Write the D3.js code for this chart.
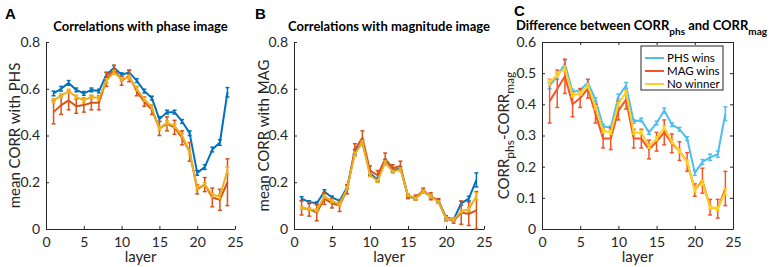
<!DOCTYPE html>
<html lang="en">
<head>
<meta charset="UTF-8">
<title>Correlations</title>
<script src="https://cdn.jsdelivr.net/npm/d3@7"></script>
<style>
    body{ margin:0; background:#fff; }
    svg{ font-family: Lato, "Open Sans", sans-serif; }
    .axis path, .axis line{ stroke:#262626; stroke-width:1px; }
    .axis text{ font-size:14px; fill:#262626; font-family: Lato, sans-serif; }
    .title{ font-size:13px; font-weight:bold; fill:#000; }
    .letter{ font-family:"Liberation Sans", Arial, sans-serif; font-weight:bold; font-size:15px; }
    .label{ font-size:15px; fill:#262626; }
    .series{ fill:none; stroke-width:2px; stroke-linejoin:round; }
    .err{ stroke-width:1.5px; fill:none; }
    .legend text{ font-size:11.5px; fill:#000; }
</style>
</head>
<body>
<svg id="svg"></svg>
<script>
var WIDTH = 773, HEIGHT = 267;

var layers = d3.range(1, 25);

// panel A: correlations with phase image
var phsBlue = [0.58,0.60,0.625,0.595,0.58,0.595,0.59,0.66,0.69,0.66,0.67,0.635,0.59,0.56,0.47,0.50,0.50,0.46,0.41,0.24,0.265,0.34,0.37,0.585];
var phsBlueErr = [0.01,0.01,0.01,0.008,0.008,0.008,0.008,0.01,0.01,0.008,0.008,0.008,0.008,0.008,0.01,0.008,0.008,0.008,0.01,0.01,0.01,0.01,0.012,0.02];
var phsRed = [0.50,0.53,0.55,0.525,0.53,0.54,0.54,0.64,0.685,0.635,0.655,0.59,0.545,0.51,0.43,0.45,0.435,0.39,0.33,0.17,0.19,0.135,0.125,0.20];
var phsRedErr = [0.05,0.04,0.04,0.03,0.03,0.03,0.03,0.03,0.015,0.02,0.025,0.02,0.02,0.02,0.03,0.03,0.03,0.03,0.04,0.02,0.03,0.04,0.045,0.1];
var phsYellow = [0.55,0.57,0.59,0.565,0.55,0.565,0.56,0.635,0.67,0.64,0.65,0.60,0.555,0.52,0.43,0.455,0.44,0.40,0.33,0.175,0.19,0.145,0.14,0.25];
var phsYellowErr = [0.008,0.008,0.008,0.008,0.008,0.008,0.008,0.008,0.008,0.008,0.008,0.008,0.008,0.008,0.008,0.008,0.008,0.008,0.01,0.008,0.008,0.008,0.01,0.015];

// panel B: correlations with magnitude image
var magBlue = [0.13,0.115,0.11,0.16,0.135,0.12,0.18,0.33,0.37,0.24,0.21,0.29,0.25,0.26,0.14,0.13,0.16,0.14,0.12,0.05,0.04,0.11,0.13,0.21];
var magBlueErr = [0.008,0.006,0.006,0.008,0.006,0.006,0.008,0.01,0.01,0.008,0.008,0.008,0.006,0.006,0.006,0.006,0.006,0.006,0.006,0.006,0.006,0.008,0.01,0.03];
var magRed = [0.09,0.085,0.07,0.13,0.11,0.10,0.17,0.34,0.39,0.25,0.23,0.30,0.26,0.27,0.14,0.135,0.165,0.14,0.12,0.045,0.035,0.07,0.065,0.08];
var magRedErr = [0.03,0.03,0.035,0.025,0.02,0.025,0.02,0.025,0.03,0.02,0.02,0.025,0.015,0.02,0.01,0.01,0.01,0.015,0.01,0.01,0.01,0.05,0.05,0.08];
var magYellow = [0.09,0.085,0.08,0.14,0.12,0.105,0.175,0.32,0.37,0.23,0.205,0.285,0.245,0.255,0.145,0.13,0.16,0.14,0.115,0.045,0.04,0.075,0.085,0.14];
var magYellowErr = [0.006,0.006,0.006,0.006,0.006,0.006,0.006,0.008,0.008,0.006,0.006,0.006,0.006,0.006,0.006,0.006,0.006,0.006,0.006,0.006,0.006,0.006,0.008,0.015];

// panel C: difference between CORR_phs and CORR_mag
var diffPhsWins = [0.46,0.49,0.53,0.44,0.445,0.47,0.415,0.33,0.325,0.425,0.46,0.345,0.35,0.31,0.34,0.38,0.335,0.32,0.29,0.18,0.215,0.23,0.24,0.37];
var diffPhsWinsErr = [0.01,0.01,0.012,0.008,0.006,0.01,0.006,0.006,0.006,0.008,0.01,0.006,0.006,0.006,0.006,0.008,0.006,0.006,0.006,0.008,0.008,0.01,0.01,0.022];
var diffMagWins = [0.41,0.45,0.49,0.40,0.42,0.45,0.37,0.29,0.29,0.38,0.415,0.29,0.29,0.255,0.28,0.31,0.275,0.25,0.215,0.125,0.155,0.07,0.065,0.13];
var diffMagWinsErr = [0.07,0.06,0.055,0.04,0.03,0.03,0.03,0.03,0.035,0.03,0.03,0.03,0.03,0.03,0.03,0.04,0.03,0.03,0.03,0.02,0.04,0.025,0.03,0.055];
var diffNoWinner = [0.47,0.495,0.515,0.43,0.435,0.46,0.39,0.315,0.31,0.40,0.44,0.31,0.31,0.265,0.29,0.325,0.28,0.25,0.215,0.125,0.15,0.07,0.065,0.12];
var diffNoWinnerErr = [0.008,0.008,0.008,0.006,0.006,0.006,0.006,0.006,0.006,0.006,0.006,0.006,0.006,0.006,0.006,0.006,0.006,0.006,0.006,0.006,0.006,0.006,0.006,0.01];

var xTicks = [0, 5, 10, 15, 20, 25];
var legendLabels = ["PHS wins", "MAG wins", "No winner"];

var svg = d3.select("#svg").attr("width", WIDTH).attr("height", HEIGHT);

var panels = [
    { letter:"A", letterX:5, letterY:19, left:46, right:235, yMax:0.8, yTicks:[0,0.2,0.4,0.6,0.8], box:false,
      title:"Correlations with phase image", ylabel:"mean CORR with PHS", labelX:15,
      series:[[phsBlue,phsBlueErr,"#0072BD"],[phsRed,phsRedErr,"#D95319"],[phsYellow,phsYellowErr,"#EDB120"]] },
    { letter:"B", letterX:255, letterY:19, left:294, right:484, yMax:0.8, yTicks:[0,0.2,0.4,0.6,0.8], box:false,
      title:"Correlations with magnitude image", ylabel:"mean CORR with MAG", labelX:264,
      series:[[magBlue,magBlueErr,"#0072BD"],[magRed,magRedErr,"#D95319"],[magYellow,magYellowErr,"#EDB120"]] },
    { letter:"C", letterX:514, letterY:16, left:542, right:733, yMax:0.6, yTicks:[0,0.1,0.2,0.3,0.4,0.5,0.6], box:true,
      title:null, ylabel:null, labelX:506,
      series:[[diffPhsWins,diffPhsWinsErr,"#4DBEEE"],[diffMagWins,diffMagWinsErr,"#F5552A"],[diffNoWinner,diffNoWinnerErr,"#FFD21F"]] }
];

var TOP = 42, BOTTOM = 229;

panels.forEach(function(p){
    var x = d3.scaleLinear().domain([0,25]).range([p.left, p.right]);
    var y = d3.scaleLinear().domain([0,p.yMax]).range([BOTTOM, TOP]);
    var g = svg.append("g");

    var fmt = function(d){ return d === 0 ? "0" : d3.format(".1f")(d); };

    g.append("g").attr("class","axis")
     .attr("transform","translate(0,"+BOTTOM+")")
     .call(d3.axisBottom(x).tickValues(xTicks).tickSizeInner(-3).tickSizeOuter(0).tickPadding(8));
    g.append("g").attr("class","axis")
     .attr("transform","translate("+p.left+",0)")
     .call(d3.axisLeft(y).tickValues(p.yTicks).tickFormat(fmt).tickSizeInner(-3).tickSizeOuter(0).tickPadding(6));

    if(p.box){
        g.append("g").attr("class","axis")
         .attr("transform","translate(0,"+TOP+")")
         .call(d3.axisTop(x).tickValues(xTicks).tickFormat("").tickSizeInner(-3).tickSizeOuter(0));
        g.append("g").attr("class","axis")
         .attr("transform","translate("+p.right+",0)")
         .call(d3.axisRight(y).tickValues(p.yTicks).tickFormat("").tickSizeInner(-3).tickSizeOuter(0));
    }

    // series
    p.series.forEach(function(s){
        var vals = s[0], errs = s[1], col = s[2];
        var pts = layers.map(function(l,i){ return {l:l, v:vals[i], e:errs[i]}; });
        var eb = g.append("g").attr("stroke", col).attr("class","err");
        pts.forEach(function(d){
            var lo = Math.max(0, d.v - d.e), hi = d.v + d.e;
            eb.append("line").attr("x1",x(d.l)).attr("x2",x(d.l)).attr("y1",y(lo)).attr("y2",y(hi));
            eb.append("line").attr("x1",x(d.l)-2).attr("x2",x(d.l)+2).attr("y1",y(lo)).attr("y2",y(lo));
            eb.append("line").attr("x1",x(d.l)-2).attr("x2",x(d.l)+2).attr("y1",y(hi)).attr("y2",y(hi));
        });
        g.append("path").datum(pts).attr("class","series").attr("stroke", col)
         .attr("d", d3.line().x(function(d){return x(d.l);}).y(function(d){return y(d.v);}));
    });

    // x label
    g.append("text").attr("class","label").attr("x",(p.left+p.right)/2).attr("y",262)
     .attr("text-anchor","middle").text("layer");

    // y label
    var yl = g.append("text").attr("class","label").attr("text-anchor","middle")
              .attr("transform","translate("+p.labelX+","+((TOP+BOTTOM)/2)+") rotate(-90)");
    if(p.ylabel){
        yl.attr("dy","0.35em").text(p.ylabel);
    } else {
        yl.attr("dy","0.2em");
        yl.append("tspan").text("CORR");
        yl.append("tspan").attr("dy","5").attr("font-size","12px").text("phs");
        yl.append("tspan").attr("dy","-5").text("-CORR");
        yl.append("tspan").attr("dy","5").attr("font-size","12px").text("mag");
    }

    // title
    var t = g.append("text").attr("class","title");
    if(p.title){
        t.attr("x",(p.left+p.right)/2).attr("y",31).attr("text-anchor","middle").text(p.title);
    } else {
        t.attr("x",516).attr("y",30);
        t.append("tspan").text("Difference between CORR");
        t.append("tspan").attr("dy","5").attr("font-size","10px").text("phs");
        t.append("tspan").attr("dy","-5").text(" and CORR");
        t.append("tspan").attr("dy","5").attr("font-size","10px").text("mag");
    }

    g.append("text").attr("class","letter").attr("x",p.letterX).attr("y",p.letterY).text(p.letter);

    // legend for C
    if(p.box){
        var lg = g.append("g").attr("class","legend");
        lg.append("rect").attr("x",641).attr("y",46).attr("width",82).attr("height",44)
          .attr("fill","#fff").attr("stroke","#262626").attr("stroke-width",1);
        legendLabels.forEach(function(lbl,i){
            var yy = 58 + i*13;
            lg.append("line").attr("x1",645).attr("x2",664).attr("y1",yy).attr("y2",yy)
              .attr("stroke",p.series[i][2]).attr("stroke-width",2);
            lg.append("text").attr("x",667).attr("y",yy).attr("dy","0.35em").text(lbl);
        });
    }
});
</script>
</body>
</html>
